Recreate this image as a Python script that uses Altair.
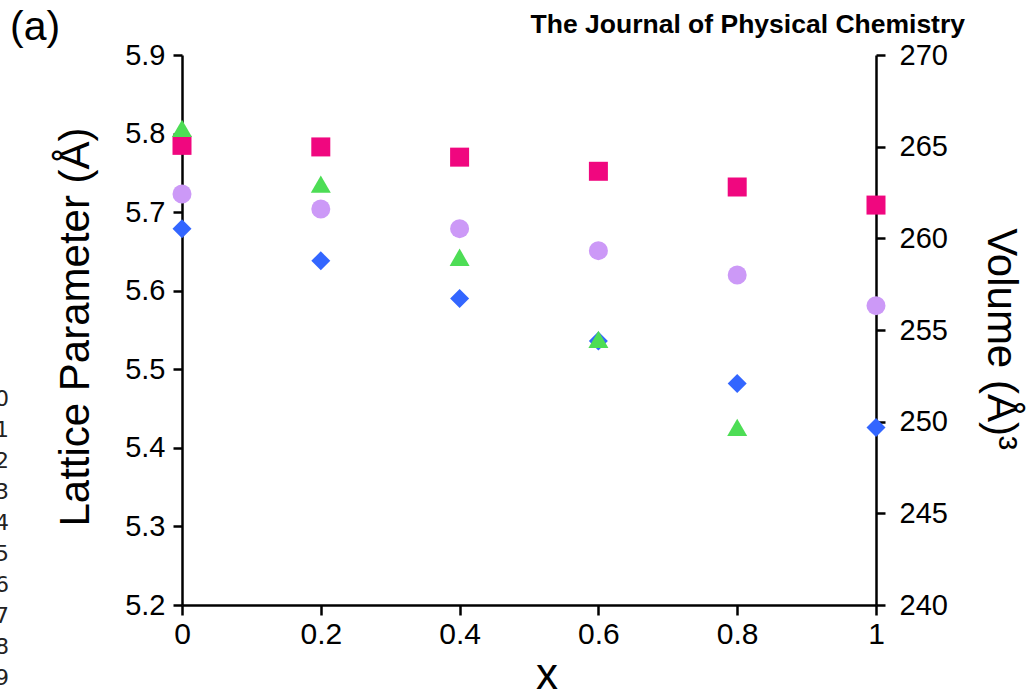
import altair as alt
import pandas as pd

# ---- data ----
x_vals = [0.0, 0.2, 0.4, 0.6, 0.8, 1.0]
lattice_sq = [5.785, 5.783, 5.770, 5.752, 5.732, 5.709]    # pink squares
lattice_circ = [5.723, 5.704, 5.679, 5.651, 5.620, 5.581]  # lavender circles
lattice_dia = [5.679, 5.638, 5.590, 5.536, 5.482, 5.426]   # blue diamonds
vol_x = [0.0, 0.2, 0.4, 0.6, 0.8]
volume = [266.0, 262.96, 258.97, 254.49, 249.69]           # green triangles

x_ticks = [0, 0.2, 0.4, 0.6, 0.8, 1]
left_ticks = [5.2, 5.3, 5.4, 5.5, 5.6, 5.7, 5.8, 5.9]
right_ticks = [240, 245, 250, 255, 260, 265, 270]
line_numbers = ["10", "11", "12", "13", "14", "15", "16", "17", "18", "19"]

series_names = ["a", "b", "c"]
series_shapes = ["square", "circle", "diamond"]
series_colors = ["#F0077F", "#CC99F7", "#3366FF"]
series_sizes = [361, 361, 340]

W, H = 694, 550
FONT = "Liberation Sans"

rows = []
for name, vals in zip(series_names, [lattice_sq, lattice_circ, lattice_dia]):
    for xv, yv in zip(x_vals, vals):
        rows.append({"x": xv, "y": yv, "series": name})
left_df = pd.DataFrame(rows)
right_df = pd.DataFrame({"x": vol_x, "v": volume})

x_enc = alt.X(
    "x:Q",
    scale=alt.Scale(domain=[0, 1], nice=False),
    axis=alt.Axis(values=x_ticks, format="~g", title=None, labelFontSize=30,
                  labelPadding=4, tickSize=10, labelFlush=False, labelOverlap=False,
                  orient="bottom"),
)

left_pts = alt.Chart(left_df).mark_point(filled=True, opacity=1).encode(
    x=x_enc,
    y=alt.Y("y:Q", scale=alt.Scale(domain=[5.2, 5.9], nice=False, zero=False),
            axis=alt.Axis(values=left_ticks, format=".1f", title=None, orient="left",
                          labelPadding=8, labelFlush=False, labelOverlap=False)),
    shape=alt.Shape("series:N", scale=alt.Scale(domain=series_names, range=series_shapes), legend=None),
    color=alt.Color("series:N", scale=alt.Scale(domain=series_names, range=series_colors), legend=None),
    size=alt.Size("series:N", scale=alt.Scale(domain=series_names, range=series_sizes), legend=None),
)

right_pts = alt.Chart(right_df).mark_point(filled=True, opacity=1, shape="triangle-up",
                                           size=400, color="#4DDD55").encode(
    x=x_enc,
    y=alt.Y("v:Q", scale=alt.Scale(domain=[240, 270], nice=False, zero=False),
            axis=alt.Axis(values=right_ticks, format="d", title=None, orient="right",
                          labelPadding=14, labelFlush=False, labelOverlap=False)),
)

one = pd.DataFrame({"t": [0]})


def label(text, x, y, size, angle=0, align="center", baseline="alphabetic",
          weight="normal", font=FONT, color="black"):
    kw = dict(text=text, fontSize=size, align=align, baseline=baseline,
              fontWeight=weight, font=font, color=color)
    if angle:
        kw["angle"] = angle
    return alt.Chart(one).mark_text(**kw).encode(x=alt.value(x), y=alt.value(y))


texts = [
    label("Lattice Parameter (Å)", -93, 272, 42, angle=270),
    label("Volume (Å)³", 806, 284, 42, angle=90),
    label("x", 365, 634, 44),
    label("(a)", -172, -15, 41, align="left"),
    label("The Journal of Physical Chemistry", 783, -22, 26.5, align="right", weight="bold"),
]
for i, ln in enumerate(line_numbers):
    texts.append(label(ln, -173, 344 + 31 * i, 22, align="right", baseline="middle",
                       font="DejaVu Sans", color="#222222"))

chart = alt.layer(left_pts, right_pts, *texts).resolve_scale(
    y="independent"
).properties(
    width=W, height=H,
    autosize=alt.AutoSizeParams(type="none"),
    padding={"left": 182, "top": 55, "right": 151, "bottom": 91},
).configure_view(
    stroke=None
).configure_axis(
    grid=False,
    domainColor="black", domainWidth=2.5,
    tickColor="black", tickWidth=2.5, tickSize=9,
    labelFont=FONT, labelFontSize=29, labelColor="black",
)

chart.save("out.html", embed_options={"renderer": "svg", "actions": False})
